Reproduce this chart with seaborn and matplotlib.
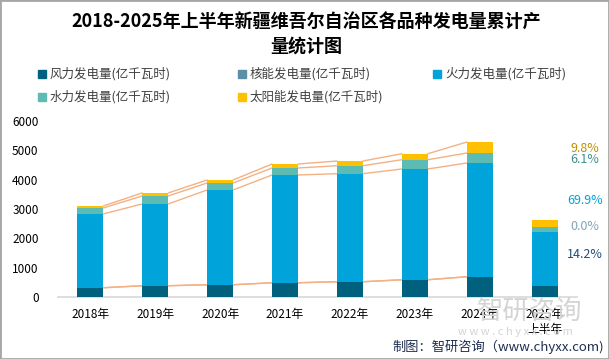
import numpy as np
import pandas as pd
import matplotlib
matplotlib.use("Agg")
import matplotlib.pyplot as plt
import seaborn as sns
from matplotlib.patches import Rectangle

# ---------------------------------------------------
#   データ
# ---------------------------------------------------
years = ["2018年", "2019年", "2020年", "2021年", "2022年", "2023年", "2024年", "2025年\n上半年"]
wind = [316, 384, 418, 486, 520, 588, 690, 375]
nuclear = [0, 0, 0, 0, 0, 0, 0, 0]
thermal = [2517, 2789, 3232, 3674, 3684, 3776, 3878, 1845]
hydro = [204, 272, 238, 238, 272, 316, 340, 161]
solar = [68, 103, 102, 136, 160, 204, 374, 259]
series_names = ["风力发电量(亿千瓦时)", "核能发电量(亿千瓦时)", "火力发电量(亿千瓦时)",
                "水力发电量(亿千瓦时)", "太阳能发电量(亿千瓦时)"]
share_labels = ["14.2%", "0.0%", "69.9%", "6.1%", "9.8%"]

colors = ["#00617F", "#5B8FA8", "#00A3DA", "#5CBCB4", "#FFC000"]
share_colors = ["#1F4E79", "#7FA5B8", "#00A3DA", "#3F8F8A", "#BF8F00"]

sns.set_theme(style="white")
plt.rcParams['font.family'] = ['Noto Sans CJK SC', 'DejaVu Sans']

df = pd.DataFrame({"year": years, "wind": wind, "nuclear": nuclear,
                   "thermal": thermal, "hydro": hydro, "solar": solar})
cols = ["wind", "nuclear", "thermal", "hydro", "solar"]
cum = df[cols].cumsum(axis=1)

W, H = 609, 359
fig = plt.figure(figsize=(W / 100, H / 100), dpi=100)
ax = fig.add_axes([58 / W, 62 / H, 519 / W, 176 / H])

# 積み上げ棒 (上から順に重ね描き)
for c, col in zip(colors[::-1], cols[::-1]):
    sns.barplot(x=df["year"], y=cum[col], color=c, width=0.4, ax=ax,
                saturation=1, edgecolor="none", zorder=3)

# 系列線
for col in cols:
    v = cum[col].values
    for i in range(6):
        ax.plot([i + 0.2, i + 0.8], [v[i], v[i + 1]], color="#F4B183", lw=1, zorder=2)

ax.set_ylim(0, 6000)
ax.set_xlim(-0.5, 7.5)
ax.set_yticks(range(0, 6001, 1000))
ax.set_xlabel("")
ax.set_ylabel("")
ax.tick_params(axis="both", length=0, labelsize=8.5, colors="#000000")
ax.tick_params(axis="y", pad=14)
ax.tick_params(axis="x", pad=8)
for s in ["top", "right", "left"]:
    ax.spines[s].set_visible(False)
ax.spines["bottom"].set_color("#D9D9D9")

# タイトル
fig.text(306 / W, 1 - 22 / H, "2018-2025年上半年新疆维吾尔自治区各品种发电量累计产",
         ha="center", va="center", fontsize=13, fontweight="bold", color="#000000")
fig.text(306 / W, 1 - 46 / H, "量统计图", ha="center", va="center",
         fontsize=13, fontweight="bold", color="#000000")

# 凡例
pos = [(42, 74), (242, 74), (437, 74), (42, 97), (242, 97)]
for (x, y), c, name in zip(pos, colors, series_names):
    fig.patches.append(Rectangle(((x - 4) / W, 1 - (y + 4) / H), 8 / W, 8 / H,
                                 transform=fig.transFigure, color=c))
    fig.text((x + 8) / W, 1 - y / H, name, ha="left", va="center",
             fontsize=9, color="#404040")

# 構成比ラベル
ys = [254, 226, 200, 160, 148]
for y, t, c in zip(ys, share_labels, share_colors):
    fig.text(585 / W, 1 - y / H, t, ha="center", va="center", fontsize=9, color=c)

# ウォーターマーク
fig.text(530 / W, 1 - 311 / H, "智研咨询", ha="center", va="center",
         fontsize=19, color="#D4D4D4", zorder=0)
fig.text(515 / W, 1 - 332 / H, "w w w . c h y x x . c o m", ha="center", va="center",
         fontsize=8, color="#D4D4D4", zorder=0)

fig.text(604 / W, 1 - 347 / H, "制图：智研咨询（www.chyxx.com)", ha="right", va="center",
         fontsize=9.5, color="#1F2D50")

fig.patches.append(Rectangle((0, 0), 1, 1, transform=fig.transFigure,
                             fill=False, edgecolor="#A6A6A6", lw=2))

fig.savefig("out.png", dpi=100)
